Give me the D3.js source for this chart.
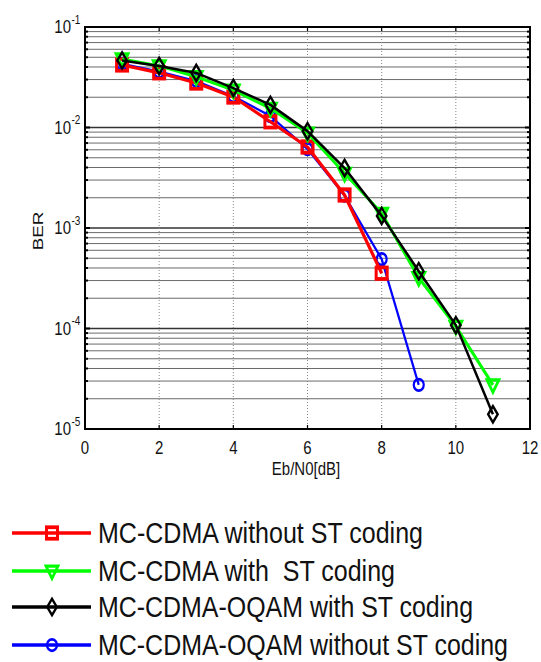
<!DOCTYPE html>
<html><head><meta charset="utf-8">
<script src="https://cdn.jsdelivr.net/npm/d3@7"></script>
<style>html,body{margin:0;padding:0;background:#fff;}svg{display:block;} text{font-family:'Liberation Sans', Arial, sans-serif; white-space:pre;}</style>
</head><body>
<svg id="chart" width="541" height="662"></svg>
<script>
const xTicks = [0, 2, 4, 6, 8, 10, 12];
const yDecades = [-1, -2, -3, -4, -5];
const xLabel = "Eb/N0[dB]";
const yLabel = "BER";

const ebn0Red = [1, 2, 3, 4, 5, 6, 7, 8];
const berRed = [0.0419, 0.035, 0.0277, 0.0201, 0.0114, 0.0064, 0.00213, 0.000355];
const ebn0Green = [1, 2, 3, 4, 5, 6, 7, 8, 9, 10, 11];
const berGreen = [0.0481, 0.041, 0.032, 0.0235, 0.0155, 0.0088, 0.0035, 0.0014, 0.00032, 0.000105, 0.0000275];
const ebn0Black = [1, 2, 3, 4, 5, 6, 7, 8, 9, 10, 11];
const berBlack = [0.0465, 0.0409, 0.0349, 0.0247, 0.0168, 0.0092, 0.00395, 0.00132, 0.000371, 0.000108, 0.000014];
const ebn0Blue = [1, 2, 3, 4, 5, 6, 7, 8, 9];
const berBlue = [0.043, 0.036, 0.029, 0.0205, 0.013, 0.0061, 0.0021, 0.00049, 0.0000275];

const seriesNames = ["MC-CDMA without ST coding", "MC-CDMA with  ST coding", "MC-CDMA-OQAM with ST coding", "MC-CDMA-OQAM without ST coding"];
const seriesColors = ["#ff0000", "#00ff00", "#000000", "#0000ff"];
const seriesMarkers = ["square", "triangle", "diamond", "circle"];

const series = [
  {name: seriesNames[0], x: ebn0Red, y: berRed, color: seriesColors[0], marker: seriesMarkers[0], w: 3.2},
  {name: seriesNames[1], x: ebn0Green, y: berGreen, color: seriesColors[1], marker: seriesMarkers[1], w: 3},
  {name: seriesNames[2], x: ebn0Black, y: berBlack, color: seriesColors[2], marker: seriesMarkers[2], w: 2.5},
  {name: seriesNames[3], x: ebn0Blue, y: berBlue, color: seriesColors[3], marker: seriesMarkers[3], w: 2.2}
];
const drawOrder = [3, 0, 1, 2];
const legendWidths = [325, 297, 375, 410];

const SY = 1.25;
const L = 85, R = 530, T = 27, B = 429;
const svg = d3.select("#chart");
const x = d3.scaleLinear().domain([0, 12]).range([L, R]);
const y = d3.scaleLog().domain([1e-5, 1e-1]).range([B, T]);

const gridVals = [];
for (let e = -5; e < -1; e++) for (let m = 1; m <= 9; m++) gridVals.push(m * Math.pow(10, e));
gridVals.push(0.1);
const isMajor = v => Math.abs(Math.log10(v) - Math.round(Math.log10(v))) < 1e-9;
const g = svg.append("g");
gridVals.forEach(v => {
  const major = isMajor(v);
  g.append("line").attr("x1", L).attr("x2", R).attr("y1", y(v)).attr("y2", y(v))
    .attr("stroke", major ? "#333" : "#6a6a6a").attr("stroke-width", major ? 1.3 : 1);
});
xTicks.slice(1, -1).forEach(t => {
  g.append("line").attr("x1", x(t)).attr("x2", x(t)).attr("y1", T).attr("y2", B)
    .attr("stroke", "#888").attr("stroke-width", 1).attr("stroke-dasharray", "1,2");
});

const tk = svg.append("g").attr("stroke", "#000").attr("stroke-width", 1.2);
xTicks.forEach(t => {
  tk.append("line").attr("x1", x(t)).attr("x2", x(t)).attr("y1", B).attr("y2", B - 4);
  tk.append("line").attr("x1", x(t)).attr("x2", x(t)).attr("y1", T).attr("y2", T + 4);
});
gridVals.forEach(v => {
  const len = isMajor(v) ? 5 : 3;
  tk.append("line").attr("x1", L).attr("x2", L + len).attr("y1", y(v)).attr("y2", y(v)).attr("stroke-width", 2);
  tk.append("line").attr("x1", R).attr("x2", R - len).attr("y1", y(v)).attr("y2", y(v)).attr("stroke-width", 2);
});

svg.append("rect").attr("x", L).attr("y", T).attr("width", R - L).attr("height", B - T)
  .attr("fill", "none").attr("stroke", "#000").attr("stroke-width", 2);

function drawMarker(sel, type, cx, cy, color) {
  const gm = sel.append("g").attr("transform", `translate(${cx},${cy}) scale(1,${SY})`);
  if (type === "square") {
    gm.append("rect").attr("x", -5.5).attr("y", -4.6).attr("width", 11).attr("height", 9.2)
      .attr("fill", "none").attr("stroke", color).attr("stroke-width", 3);
  } else if (type === "triangle") {
    gm.append("path").attr("d", "M-6,-4 L6,-4 L0,6 Z").attr("fill", "none").attr("stroke", color).attr("stroke-width", 2.6);
  } else if (type === "diamond") {
    gm.append("path").attr("d", "M0,-6.5 L4.8,0 L0,6.5 L-4.8,0 Z").attr("fill", "none").attr("stroke", color).attr("stroke-width", 2.2);
  } else {
    gm.append("ellipse").attr("rx", 5).attr("ry", 4.6).attr("fill", "none").attr("stroke", color).attr("stroke-width", 2.2);
  }
}

const line = d3.line().x(d => x(d[0])).y(d => y(d[1]));
drawOrder.forEach(i => {
  const s = series[i];
  const pts = s.x.map((v, k) => [v, s.y[k]]);
  const gs = svg.append("g");
  gs.append("path").attr("d", line(pts)).attr("fill", "none").attr("stroke", s.color)
    .attr("stroke-width", s.w).attr("stroke-linejoin", "round");
  pts.forEach(p => drawMarker(gs, s.marker, x(p[0]), y(p[1]), s.color));
});

xTicks.forEach(t => {
  svg.append("text").attr("transform", `translate(${x(t)},454) scale(1,${SY})`)
    .attr("text-anchor", "middle").attr("font-size", 15).attr("fill", "#111").text(t);
});
yDecades.forEach(e => {
  const yy = y(Math.pow(10, e));
  svg.append("text").attr("transform", `translate(71,${yy + 6}) scale(1,${SY})`)
    .attr("text-anchor", "end").attr("font-size", 15).attr("fill", "#111").text("10");
  svg.append("text").attr("transform", `translate(71.5,${yy - 3.5}) scale(1,${SY})`)
    .attr("text-anchor", "start").attr("font-size", 10).attr("fill", "#111").text(String(e));
});
svg.append("text").attr("transform", `translate(306,475) scale(1,${SY})`)
  .attr("text-anchor", "middle").attr("font-size", 15).attr("fill", "#111").text(xLabel);
svg.append("text").attr("transform", `translate(43,231) rotate(-90) scale(${SY},1)`)
  .attr("text-anchor", "middle").attr("font-size", 15).attr("fill", "#111").text(yLabel);

const legY = [533, 571, 607, 645];
series.forEach((s, i) => {
  const lg = svg.append("g");
  lg.append("line").attr("x1", 12).attr("x2", 91).attr("y1", legY[i]).attr("y2", legY[i])
    .attr("stroke", s.color).attr("stroke-width", 3.5);
  drawMarker(lg, s.marker, 52, legY[i], s.color);
  lg.append("text").attr("transform", `translate(98,${legY[i] + 10}) scale(1,1.2)`)
    .attr("font-size", 25).attr("fill", "#111")
    .attr("textLength", legendWidths[i]).attr("lengthAdjust", "spacingAndGlyphs").text(s.name);
});
</script>
</body></html>
